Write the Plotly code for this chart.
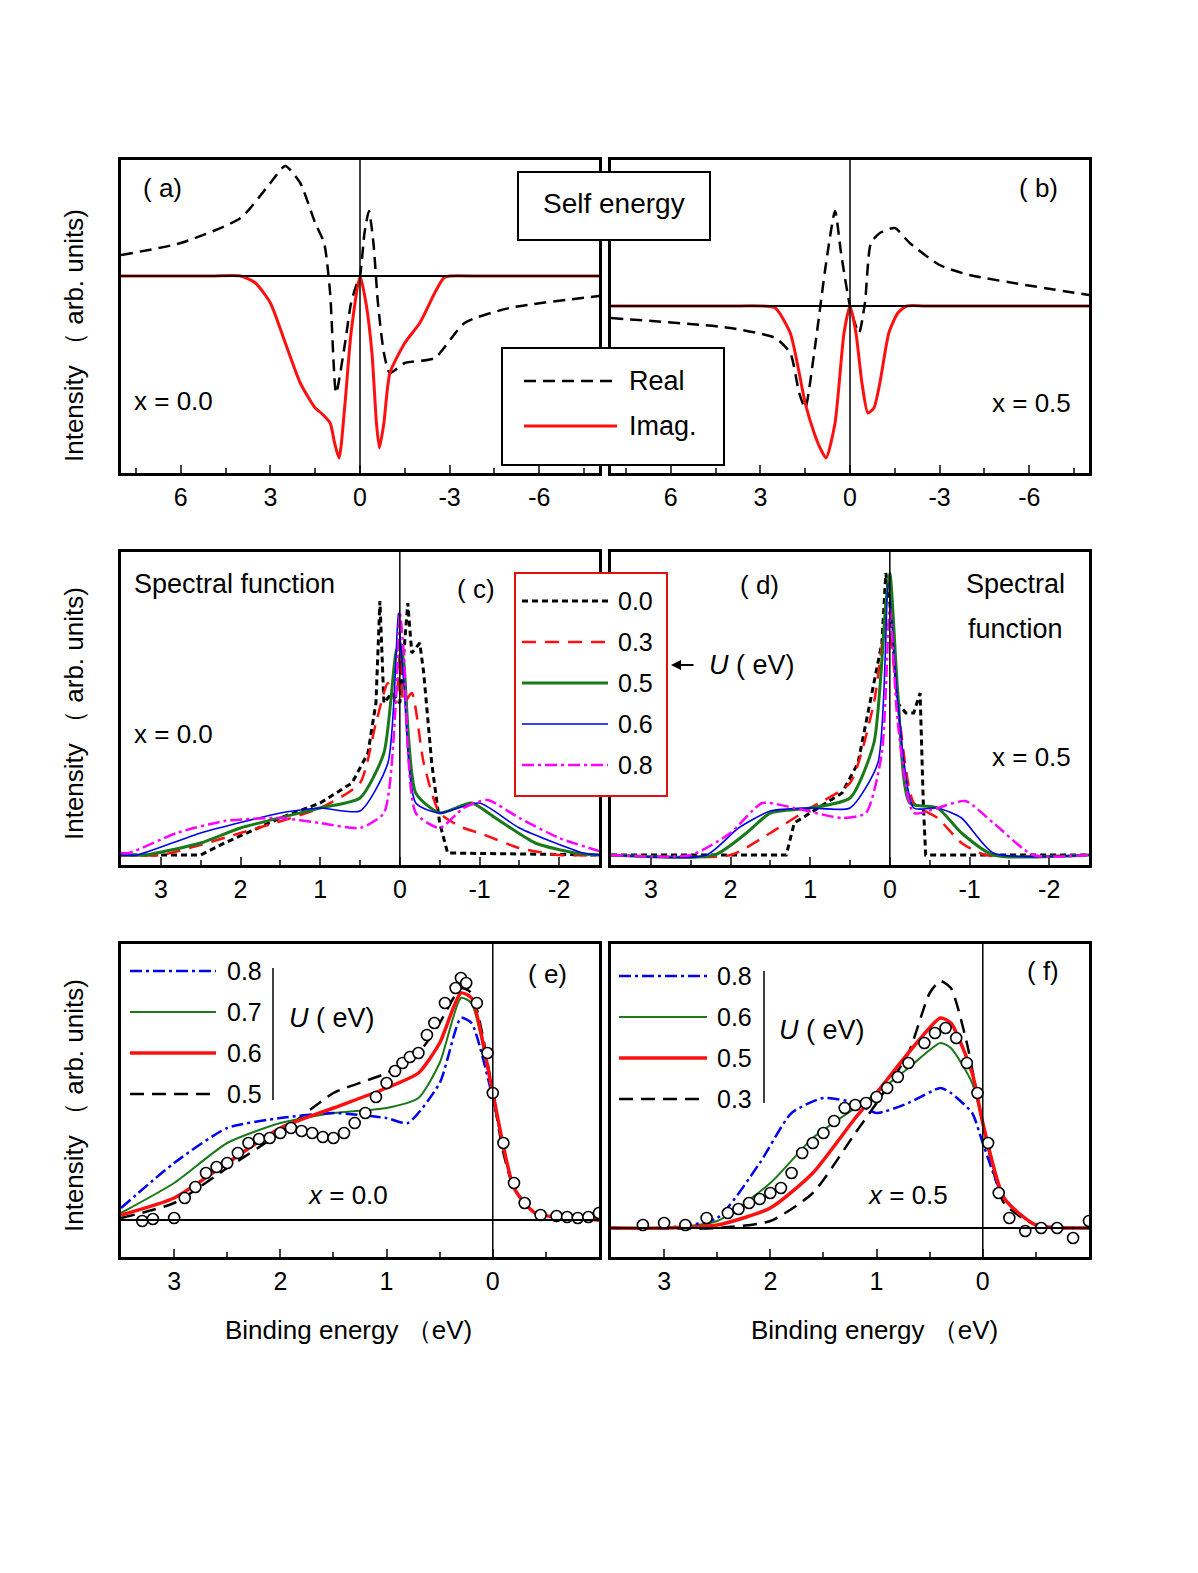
import plotly.graph_objects as go

W, H = 1198, 1573
FONT = "Liberation Sans, Arial, sans-serif"

# ---- panel (a): self energy x=0.0 ----
a_real_x = [8,6,4,3,2.5,2,1.5,1.2,1.0,0.8,0.5,0.3,0.1,0,-0.15,-0.3,-0.45,-0.6,-0.8,-1,-1.5,-2.5,-3.5,-5,-8]
a_real_y = [218,230,255,290,307,290,250,230,180,80,130,170,190,197,240,262,230,170,120,100,110,115,150,165,177]
a_imag_x = [8,5,4,3.5,3,2.5,2,1.5,1.3,1.0,0.85,0.7,0.5,0.3,0,-0.2,-0.4,-0.55,-0.65,-0.8,-1.0,-1.5,-2,-2.5,-2.8,-3,-4,-8]
a_imag_y = [197,197,197,190,170,130,90,65,60,50,30,15,70,140,197,170,120,50,25,50,100,130,150,180,195,197,197,197]
a_zero = 197
# ---- panel (b): self energy x=0.5 ----
b_real_x = [8,4,2.5,2,1.7,1.5,1.2,0.8,0.5,0.3,0,-0.3,-0.5,-0.7,-1,-1.5,-2,-3,-4,-8]
b_real_y = [155,145,135,120,80,65,120,210,262,220,167,140,170,230,240,245,230,208,198,178]
b_imag_x = [8,4,3,2.5,2,1.7,1.5,1.2,1,0.8,0.5,0.2,0,-0.2,-0.4,-0.6,-0.8,-1,-1.3,-1.6,-1.9,-2.5,-4,-8]
b_imag_y = [167,167,167,165,140,100,70,40,25,15,50,140,167,140,90,60,65,90,140,160,167,167,167,167]
b_zero = 167

# ---- panel (c): spectral function x=0.0, U = 0.0,0.3,0.5,0.6,0.8 ----
c_x = {
 "0.0": [3.5,2.5,2.2,1.5,1,0.6,0.4,0.3,0.25,0.2,0.1,0,-0.1,-0.15,-0.25,-0.3,-0.4,-0.5,-0.6,-2.5],
 "0.3": [3.5,3,2,1,0.5,0.3,0.15,0.05,0,-0.05,-0.15,-0.3,-0.5,-0.8,-1,-1.5,-2,-2.5],
 "0.5": [3.5,3.2,2.5,2,1,0.5,0.2,0.05,0,-0.05,-0.2,-0.5,-0.9,-1.2,-1.7,-2.2,-2.5],
 "0.6": [3.5,3.3,2.5,1.5,1,0.5,0.15,0.02,0,-0.05,-0.2,-0.5,-1,-1.5,-2.3,-2.5],
 "0.8": [3.5,3.4,2.8,2.2,1.5,1,0.5,0.2,0.05,0,-0.05,-0.2,-0.5,-0.8,-1.1,-1.5,-2,-2.5],
}
c_y = {
 "0.0": [10,10,22,47,62,82,112,162,264,162,172,162,262,212,222,192,102,42,12,10],
 "0.3": [10,10,32,57,82,142,182,162,212,162,172,102,52,37,32,17,10,10],
 "0.5": [10,10,22,37,57,67,112,212,222,202,72,52,62,47,22,12,10],
 "0.6": [10,10,32,52,57,54,102,252,232,182,62,52,62,37,12,10],
 "0.8": [12,12,32,44,47,42,37,52,162,252,212,52,37,57,65,47,27,14],
}
# ---- panel (d): spectral function x=0.5 ----
d_x = {
 "0.0": [3.5,1.3,1.2,1.0,0.6,0.4,0.25,0.1,0.05,0,-0.1,-0.2,-0.3,-0.38,-0.42,-0.45,-2.5],
 "0.3": [3.5,2,1.5,1,0.5,0.2,0.05,0,-0.1,-0.3,-0.6,-0.9,-1.2,-2.5],
 "0.5": [3.5,2.2,1.8,1.5,1,0.5,0.2,0.05,0,-0.1,-0.25,-0.6,-0.9,-1.3,-2.5],
 "0.6": [3.5,2.3,1.9,1.5,1,0.5,0.15,0.02,-0.1,-0.3,-0.6,-0.9,-1.3,-2.5],
 "0.8": [3.5,2.5,2,1.6,1.2,0.6,0.3,0.1,0,-0.1,-0.3,-0.6,-0.95,-1.3,-1.8,-2.5],
}
d_y = {
 "0.0": [10,10,42,52,72,102,162,222,292,262,162,152,152,172,62,10,10],
 "0.3": [10,10,32,57,82,162,242,232,162,62,47,22,10,10],
 "0.5": [10,10,32,52,57,67,122,262,292,172,62,57,32,10,10],
 "0.6": [10,10,37,54,57,57,102,282,162,57,57,47,12,10],
 "0.8": [10,10,32,62,57,47,52,112,257,142,52,57,64,42,10,10],
}

# ---- panel (e): PES fit x=0.0, U = 0.8,0.7,0.6,0.5 ----
e_x = {
 "0.5": [3.5,3,2.5,2,1.5,1,0.7,0.5,0.3,0.2,0.1,0,-0.1,-0.2,-0.4,-1],
 "0.6": [3.5,3,2.5,2,1.5,1,0.7,0.5,0.3,0.2,0,-0.2,-0.4,-1],
 "0.7": [3.5,3,2.5,2,1.5,1,0.7,0.5,0.3,0.2,0,-0.2,-0.4,-1],
 "0.8": [3.5,3,2.5,2,1.5,1,0.8,0.5,0.3,0.2,0,-0.2,-0.4,-1],
}
e_y = {
 "0.5": [39,54,89,124,164,184,204,234,269,264,224,164,104,69,44,37],
 "0.6": [42,59,94,129,149,169,184,214,264,259,164,69,44,37],
 "0.7": [44,74,114,134,144,149,159,194,259,254,164,69,44,37],
 "0.8": [49,94,129,139,144,139,134,174,239,234,159,69,44,37],
}
e_data_x = [3.3,3.2,3.0,2.9,2.8,2.7,2.6,2.5,2.4,2.3,2.2,2.1,2.0,1.9,1.8,1.7,1.6,1.5,1.4,1.3,1.2,1.1,1.0,0.92,0.85,0.78,0.7,0.62,0.55,0.45,0.35,0.3,0.25,0.15,0.05,0,-0.1,-0.2,-0.3,-0.45,-0.6,-0.7,-0.8,-0.9,-1]
e_data_y = [36,38,39,59,70,84,90,94,104,114,118,119,124,129,126,124,120,119,124,134,144,160,174,186,194,200,204,222,234,254,269,279,274,254,204,164,114,74,54,42,41,40,39,40,44]
e_zero = 37
e_order = ["0.8", "0.7", "0.6", "0.5"]

# ---- panel (f): PES fit x=0.5, U = 0.8,0.6,0.5,0.3 ----
f_x = {
 "0.3": [3.5,2.5,2,1.6,1.2,1,0.7,0.5,0.4,0.3,0.15,0,-0.2,-0.5,-1],
 "0.5": [3.5,3,2.5,2,1.6,1.2,1,0.7,0.4,0.3,0.1,0,-0.2,-0.5,-1],
 "0.6": [3.5,3,2.5,2,1.6,1.2,1,0.7,0.4,0.3,0.1,0,-0.2,-0.5,-1],
 "0.8": [3.5,3,2.5,2.1,1.8,1.5,1.2,1,0.7,0.4,0.3,0.1,0,-0.2,-0.5,-1],
}
f_y = {
 "0.3": [29,29,36,64,124,154,204,264,276,269,214,134,54,32,29],
 "0.5": [29,29,32,49,84,139,164,204,239,234,184,134,59,32,29],
 "0.6": [29,29,36,74,119,149,164,189,214,209,174,134,59,32,29],
 "0.8": [29,29,39,94,144,159,154,144,154,169,164,144,114,59,32,29],
}
f_data_x = [3.2,3.0,2.8,2.6,2.4,2.3,2.2,2.1,2.0,1.9,1.8,1.7,1.6,1.5,1.4,1.3,1.2,1.1,1.0,0.9,0.8,0.7,0.55,0.45,0.35,0.25,0.15,0.05,-0.05,-0.15,-0.25,-0.4,-0.55,-0.7,-0.85,-1]
f_data_y = [32,34,32,39,44,48,54,58,64,69,84,104,114,124,136,149,152,154,160,169,180,194,214,224,229,219,194,164,114,64,39,26,29,29,19,36]
f_zero = 29
f_order = ["0.8", "0.6", "0.5", "0.3"]

STY = {
 "0.0": dict(color="black", dash="6px,4px", width=3),
 "0.3": dict(color="#ff1010", dash="14px,9px", width=2.5),
 "0.5": dict(color="#1a7a1a", width=3),
 "0.6": dict(color="#0000ee", width=1.6),
 "0.8": dict(color="#ff00ff", dash="12px,4px,3px,4px", width=2.5),
}
RANK_STY = [
 dict(color="#0000ee", dash="12px,4px,3px,4px", width=2.5),
 dict(color="#1a7a1a", width=2),
 dict(color="#ff1010", width=3.5),
 dict(color="black", dash="14px,8px", width=2.5),
]

OX, OY = 6, 5
def px(x): return (x - OX) / W
def py(y): return 1 - (y - OY) / H

panels = {
 "a": ([119, 597], [157, 470], [8, -8]),
 "b": ([609, 1087], [157, 470], [8, -8]),
 "c": ([119, 597], [549, 862], [3.5, -2.5]),
 "d": ([609, 1087], [549, 862], [3.5, -2.5]),
 "e": ([119, 597], [941, 1254], [3.5, -1.0]),
 "f": ([609, 1087], [941, 1254], [3.5, -1.0]),
}
ticks = {
 "a": ([6,3,0,-3,-6], ["6","3","0","-3","-6"], 1.5),
 "b": ([6,3,0,-3,-6], ["6","3","0","-3","-6"], 1.5),
 "c": ([3,2,1,0,-1,-2], ["3","2","1","0","-1","-2"], 0.5),
 "d": ([3,2,1,0,-1,-2], ["3","2","1","0","-1","-2"], 0.5),
 "e": ([3,2,1,0], ["3","2","1","0"], 0.5),
 "f": ([3,2,1,0], ["3","2","1","0"], 0.5),
}

fig = go.Figure()
layout = dict(width=W, height=H, margin=dict(l=0, r=0, t=0, b=0),
              paper_bgcolor="white", plot_bgcolor="white", showlegend=False,
              font=dict(family=FONT, size=24, color="black"))
ax_id = {}
shapes, annos = [], []
for i, (k, (xd, yd, xr)) in enumerate(panels.items()):
    n = "" if i == 0 else str(i + 1)
    ax_id[k] = ("x" + n, "y" + n)
    tv, tt, minor = ticks[k]
    layout["xaxis" + n] = dict(domain=[px(xd[0]), px(xd[1])], range=xr, anchor="y" + n,
        showline=True, linewidth=3, linecolor="black", mirror=True, showgrid=False,
        zeroline=False, ticks="inside", ticklen=8, tickwidth=2, tickvals=tv, ticktext=tt,
        tickfont=dict(size=25), minor=dict(ticks="inside", ticklen=5, dtick=minor, tickwidth=1.5))
    layout["yaxis" + n] = dict(domain=[py(yd[1]), py(yd[0])], range=[0, 313], anchor="x" + n,
        showline=True, linewidth=3, linecolor="black", mirror=True, showgrid=False,
        zeroline=False, showticklabels=False, ticks="")
    shapes.append(dict(type="line", xref="x" + n, yref="y" + n + " domain", x0=0, x1=0, y0=0, y1=1,
                       line=dict(color="black", width=1.5)))

def add(k, x, y, line, shape="spline"):
    xa, ya = ax_id[k]
    fig.add_trace(go.Scatter(x=x, y=y, mode="lines", line=dict(shape=shape, smoothing=0.6, **line),
                             xaxis=xa, yaxis=ya))

def hzero(k, y0):
    xa, ya = ax_id[k]
    shapes.append(dict(type="line", xref=xa + " domain", yref=ya, x0=0, x1=1, y0=y0, y1=y0,
                       line=dict(color="black", width=2)))

hzero("a", a_zero); hzero("b", b_zero); hzero("e", e_zero); hzero("f", f_zero)
add("a", a_real_x, a_real_y, dict(color="black", dash="12px,7px", width=2.5))
add("a", a_imag_x, a_imag_y, dict(color="#ff1010", width=3))
add("b", b_real_x, b_real_y, dict(color="black", dash="12px,7px", width=2.5))
add("b", b_imag_x, b_imag_y, dict(color="#ff1010", width=3))
for u in ["0.0", "0.3", "0.5", "0.6", "0.8"]:
    add("c", c_x[u], c_y[u], STY[u], shape="linear" if u == "0.0" else "spline")
    add("d", d_x[u], d_y[u], STY[u], shape="linear" if u == "0.0" else "spline")
for k, order, xs, ys in [("e", e_order, e_x, e_y), ("f", f_order, f_x, f_y)]:
    for r in [3, 1, 0, 2]:
        u = order[r]
        add(k, xs[u], ys[u], RANK_STY[r])
for k, dx, dy in [("e", e_data_x, e_data_y), ("f", f_data_x, f_data_y)]:
    xa, ya = ax_id[k]
    fig.add_trace(go.Scatter(x=dx, y=dy, mode="markers", xaxis=xa, yaxis=ya,
        marker=dict(symbol="circle", size=11, color="white", line=dict(color="black", width=1.6))))

def text(x, y, s, size=26, xanchor="center"):
    annos.append(dict(xref="paper", yref="paper", x=px(x), y=py(y), text=s, showarrow=False,
                      xanchor=xanchor, yanchor="middle", font=dict(size=size, family=FONT)))

def box(x0, y0, x1, y1, color="black", width=2):
    shapes.append(dict(type="rect", xref="paper", yref="paper", x0=px(x0), x1=px(x1), y0=py(y0), y1=py(y1),
                       line=dict(color=color, width=width), fillcolor="white", layer="above"))

def seg(x0, x1, y, line):
    shapes.append(dict(type="line", xref="paper", yref="paper", x0=px(x0), x1=px(x1), y0=py(y), y1=py(y),
                       line=line, layer="above"))

text(160, 185, "( a)"); text(1036, 185, "( b)")
text(474, 586, "( c)"); text(757, 582, "( d)")
text(545, 971, "( e)"); text(1041, 968, "( f)")
text(130, 398, "x = 0.0", xanchor="left"); text(1071, 400, "x = 0.5", xanchor="right")
text(130, 731, "x = 0.0", xanchor="left"); text(1071, 754, "x = 0.5", xanchor="right")
text(130, 581, "Spectral function", xanchor="left", size=27)
text(1013, 581, "Spectral", size=27); text(1013, 626, "function", size=27)
text(345, 1192, "<i>x</i> = 0.0"); text(905, 1192, "<i>x</i> = 0.5")
text(347, 1327, "Binding energy （eV)"); text(872, 1327, "Binding energy （eV)")
for yc in [333, 711, 1103]:
    annos.append(dict(xref="paper", yref="paper", x=px(72), y=py(yc), text="Intensity （ arb. units)",
                      textangle=-90, showarrow=False, xanchor="center", yanchor="middle",
                      font=dict(size=26, family=FONT)))

box(516, 169, 708, 237); text(612, 201, "Self energy", size=28)
box(500, 345, 722, 462)
seg(522, 610, 378, dict(color="black", dash="12px,7px", width=2.5)); text(625, 378, "Real", xanchor="left", size=27)
seg(522, 615, 423, dict(color="#ff1010", width=3)); text(625, 423, "Imag.", xanchor="left", size=27)

box(513, 570, 665, 793, color="#e01010", width=2)
for u, yy in zip(["0.0", "0.3", "0.5", "0.6", "0.8"], [598, 639, 680, 721, 762]):
    seg(520, 606, yy, STY[u]); text(614, yy, u, xanchor="left", size=25)
annos.append(dict(xref="paper", yref="paper", x=px(669), y=py(662), ax=24, ay=0, text="",
                  showarrow=True, arrowhead=2, arrowsize=1, arrowwidth=2, arrowcolor="black"))
text(705, 662, "<i>U</i> ( eV)", xanchor="left", size=27)

for r, yy in enumerate([968, 1009, 1050, 1091]):
    seg(128, 214, yy, RANK_STY[r]); text(262, yy, e_order[r], xanchor="right", size=25)
shapes.append(dict(type="line", xref="paper", yref="paper", x0=px(271), x1=px(271), y0=py(965), y1=py(1097),
                   line=dict(color="black", width=1.5)))
text(285, 1015, "<i>U</i> ( eV)", xanchor="left", size=27)
for r, yy in enumerate([973, 1014, 1055, 1096]):
    seg(617, 705, yy, RANK_STY[r]); text(752, yy, f_order[r], xanchor="right", size=25)
shapes.append(dict(type="line", xref="paper", yref="paper", x0=px(762), x1=px(762), y0=py(968), y1=py(1100),
                   line=dict(color="black", width=1.5)))
text(775, 1027, "<i>U</i> ( eV)", xanchor="left", size=27)

layout["shapes"] = shapes
layout["annotations"] = annos
fig.update_layout(**layout)
fig.write_html("out.html")
